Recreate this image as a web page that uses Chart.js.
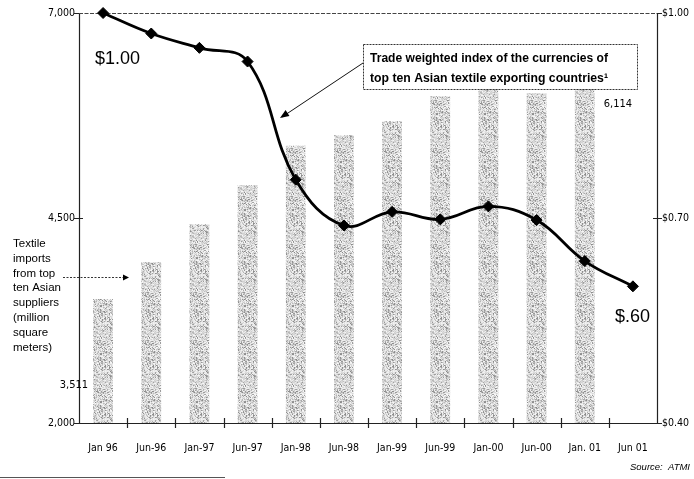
<!DOCTYPE html>
<html>
<head>
<meta charset="utf-8">
<script src="https://cdn.jsdelivr.net/npm/chart.js@4/dist/chart.umd.min.js"></script>
<style>
  html, body { margin: 0; padding: 0; background: #fff; }
  #wrap { width: 694px; height: 479px; position: relative; }
</style>
</head>
<body>
<div id="wrap"><canvas id="c"></canvas></div>
<script>
// Periods on the category axis
const periods = ['Jan 96', 'Jun-96', 'Jan-97', 'Jun-97', 'Jan-98', 'Jun-98',
                 'Jan-99', 'Jun-99', 'Jan-00', 'Jun-00', 'Jan. 01', 'Jun 01'];
// Textile imports from top ten Asian suppliers (million square meters)
const importsMsm = [3511, 3960, 4425, 4900, 5380, 5510, 5680, 5985, 6080, 6020, 6114, null];
// Trade weighted currency index (Jan 96 = $1.00)
const currencyIndex = [1.00, 0.970, 0.949, 0.929, 0.756, 0.689, 0.709, 0.698, 0.717, 0.697, 0.637, 0.60];
// Axis tick values
const importTicks = [2000, 4500, 7000];
const indexTicks = [0.40, 0.70, 1.00];

const NARROW = '"Liberation Sans Narrow", "DejaVu Sans Condensed", "Liberation Sans", sans-serif';
const SANS = '"Liberation Sans", Arial, sans-serif';

// Grainy grey stipple used for the bars (deterministic hash texture)
function stipple() {
  const s = 48, cv = document.createElement('canvas');
  cv.width = s; cv.height = s;
  const g = cv.getContext('2d');
  const img = g.createImageData(s, s);
  for (let y = 0; y < s; y++) {
    for (let x = 0; x < s; x++) {
      let h = Math.imul(x + 1, 374761393) ^ Math.imul(y + 7, 668265263);
      h = Math.imul(h ^ (h >>> 13), 1274126177);
      h = (h ^ (h >>> 16)) >>> 0;
      const r = h / 4294967296;
      const v = r < 0.28 ? Math.round(135 + r * 200) : Math.round(198 + (r - 0.28) * 70);
      const i = (y * s + x) * 4;
      img.data[i] = img.data[i + 1] = img.data[i + 2] = v;
      img.data[i + 3] = 255;
    }
  }
  g.putImageData(img, 0, 0);
  return g.createPattern(cv, 'repeat');
}

function arrowHead(ctx, x0, y0, x1, y1, len, half) {
  const a = Math.atan2(y1 - y0, x1 - x0);
  ctx.beginPath();
  ctx.moveTo(x1, y1);
  ctx.lineTo(x1 - len * Math.cos(a) + half * Math.sin(a), y1 - len * Math.sin(a) - half * Math.cos(a));
  ctx.lineTo(x1 - len * Math.cos(a) - half * Math.sin(a), y1 - len * Math.sin(a) + half * Math.cos(a));
  ctx.closePath();
  ctx.fill();
}

// Frame, tick marks, annotations and value labels
const decor = {
  id: 'decor',
  beforeDatasetsDraw(chart) {
    const { ctx, chartArea: a } = chart;
    ctx.save();
    ctx.strokeStyle = '#222';
    ctx.lineWidth = 1.2;
    // frame: left, bottom, right solid; top light dashed
    ctx.beginPath();
    ctx.moveTo(a.left + 0.5, a.top); ctx.lineTo(a.left + 0.5, a.bottom + 0.5);
    ctx.lineTo(a.right + 0.5, a.bottom + 0.5); ctx.lineTo(a.right + 0.5, a.top);
    ctx.stroke();
    ctx.save();
    ctx.setLineDash([4, 1.5]);
    ctx.strokeStyle = '#444';
    ctx.lineWidth = 1;
    ctx.beginPath();
    ctx.moveTo(a.left, a.top + 0.5); ctx.lineTo(a.right, a.top + 0.5);
    ctx.stroke();
    ctx.restore();

    // category boundary ticks crossing the bottom axis
    const step = (a.right - a.left) / periods.length;
    ctx.beginPath();
    for (let i = 1; i < periods.length; i++) {
      const x = Math.round(a.left + step * i) + 0.5;
      ctx.moveTo(x, a.bottom - 5); ctx.lineTo(x, a.bottom + 5);
    }
    // left axis ticks
    const yl = chart.scales.y;
    importTicks.forEach(v => {
      const y = Math.round(yl.getPixelForValue(v)) + 0.5;
      ctx.moveTo(a.left - 5, y); ctx.lineTo(a.left + (v === 4500 ? 4 : 0), y);
    });
    // right axis ticks
    const yr = chart.scales.y1;
    indexTicks.forEach(v => {
      const y = Math.round(yr.getPixelForValue(v)) + 0.5;
      ctx.moveTo(a.right - (v === 1.0 ? 0 : 4), y); ctx.lineTo(a.right + 5, y);
    });
    ctx.stroke();
    ctx.restore();
  },
  afterDatasetsDraw(chart) {
    const { ctx, chartArea: a } = chart;
    const lineMeta = chart.getDatasetMeta(1).data;
    const barMeta = chart.getDatasetMeta(0).data;
    ctx.save();
    ctx.fillStyle = '#000';
    ctx.textBaseline = 'alphabetic';

    // first and last index values
    ctx.font = '18px ' + SANS;
    ctx.textAlign = 'left';
    const p0 = lineMeta[0], pN = lineMeta[lineMeta.length - 1];
    ctx.fillText('$' + currencyIndex[0].toFixed(2), p0.x - 8, p0.y + 50.5);
    ctx.fillText('$' + currencyIndex[currencyIndex.length - 1].toFixed(2).replace(/^0/, ''), pN.x - 18, pN.y + 36);

    // first and last import values
    ctx.font = '11px ' + NARROW;
    ctx.textBaseline = 'middle';
    const b0 = barMeta[0];
    ctx.textAlign = 'right';
    ctx.fillText(importsMsm[0].toLocaleString('en-US'), b0.x - 15, a.bottom - 38);
    const lastIdx = 10, bL = barMeta[lastIdx];
    ctx.textAlign = 'left';
    ctx.fillText(importsMsm[lastIdx].toLocaleString('en-US'), bL.x + 19, bL.y + 18);

    // legend box for the index line
    const bx = 363, by = 44, bw = 274, bh = 45;
    ctx.fillStyle = '#fff';
    ctx.fillRect(bx, by, bw, bh);
    ctx.strokeStyle = '#333';
    ctx.lineWidth = 1;
    ctx.setLineDash([2, 1]);
    ctx.strokeRect(bx + 0.5, by + 0.5, bw, bh);
    ctx.setLineDash([]);
    ctx.fillStyle = '#000';
    ctx.font = 'bold 12.5px ' + SANS;
    ctx.textAlign = 'left';
    ctx.textBaseline = 'alphabetic';
    ctx.fillText('Trade weighted index of the currencies of', bx + 7, by + 18, 238);
    ctx.fillText('top ten Asian textile exporting countries\u00B9', bx + 7, by + 38, 238);

    // pointer from the box to the line
    ctx.strokeStyle = '#111';
    ctx.lineWidth = 1;
    ctx.beginPath();
    ctx.moveTo(bx, 63); ctx.lineTo(282, 117);
    ctx.stroke();
    arrowHead(ctx, bx, 63, 280, 118, 9, 3.5);

    // axis title for the bars, with dashed pointer
    ctx.font = '11.5px ' + SANS;
    ctx.textAlign = 'left';
    const lines = ['Textile', 'imports', 'from top', 'ten Asian', 'suppliers', '(million', 'square', 'meters)'];
    lines.forEach((t, i) => ctx.fillText(t, 13, 247 + i * 14.8));
    ctx.strokeStyle = '#333';
    ctx.setLineDash([2, 1.5]);
    ctx.beginPath();
    ctx.moveTo(63, 277.5); ctx.lineTo(124, 277.5);
    ctx.stroke();
    ctx.setLineDash([]);
    arrowHead(ctx, 63, 277.5, 129, 277.5, 6, 3);

    // source and footnote rule
    ctx.font = 'italic 9.5px ' + SANS;
    ctx.textAlign = 'right';
    ctx.fillText('Source:  ATMI', 690, 470);
    ctx.strokeStyle = '#555';
    ctx.beginPath();
    ctx.moveTo(0, 477.5); ctx.lineTo(225, 477.5);
    ctx.stroke();
    ctx.restore();
  }
};

new Chart(document.getElementById('c'), {
  data: {
    labels: periods,
    datasets: [
      {
        type: 'bar',
        label: 'Textile imports',
        data: importsMsm,
        yAxisID: 'y',
        backgroundColor: stipple(),
        borderWidth: 0,
        barPercentage: 0.41,
        categoryPercentage: 1,
        order: 2
      },
      {
        type: 'line',
        label: 'Currency index',
        data: currencyIndex,
        yAxisID: 'y1',
        borderColor: '#000',
        borderWidth: 2.8,
        tension: 0.4,
        pointStyle: 'rectRot',
        pointRadius: 5.5,
        pointBackgroundColor: '#000',
        pointBorderColor: '#000',
        pointBorderWidth: 1,
        clip: false,
        order: 1
      }
    ]
  },
  options: {
    responsive: true,
    maintainAspectRatio: false,
    animation: false,
    layout: { padding: { top: 13, left: 0, right: 0, bottom: 0 } },
    plugins: { legend: { display: false }, tooltip: { enabled: false } },
    scales: {
      x: {
        type: 'category',
        offset: true,
        grid: { display: false, drawTicks: false },
        border: { display: false },
        ticks: {
          color: '#000',
          font: { family: NARROW, size: 10.5 },
          padding: 19,
          maxRotation: 0,
          autoSkip: false
        },
        afterFit(s) { s.height = 56; }
      },
      y: {
        type: 'linear',
        position: 'left',
        min: 2000,
        max: 7000,
        grid: { display: false, drawTicks: false },
        border: { display: false },
        afterBuildTicks(s) { s.ticks = importTicks.map(v => ({ value: v })); },
        ticks: {
          color: '#000',
          font: { family: NARROW, size: 10.5 },
          padding: 4,
          callback: v => v.toLocaleString('en-US')
        },
        afterFit(s) { s.width = 79; }
      },
      y1: {
        type: 'linear',
        position: 'right',
        min: 0.40,
        max: 1.00,
        grid: { display: false, drawTicks: false },
        border: { display: false },
        afterBuildTicks(s) { s.ticks = indexTicks.map(v => ({ value: v })); },
        ticks: {
          color: '#000',
          font: { family: NARROW, size: 10.5 },
          padding: 5,
          callback: v => '$' + Number(v).toFixed(2)
        },
        afterFit(s) { s.width = 37; }
      }
    }
  },
  plugins: [decor]
});
</script>
</body>
</html>
